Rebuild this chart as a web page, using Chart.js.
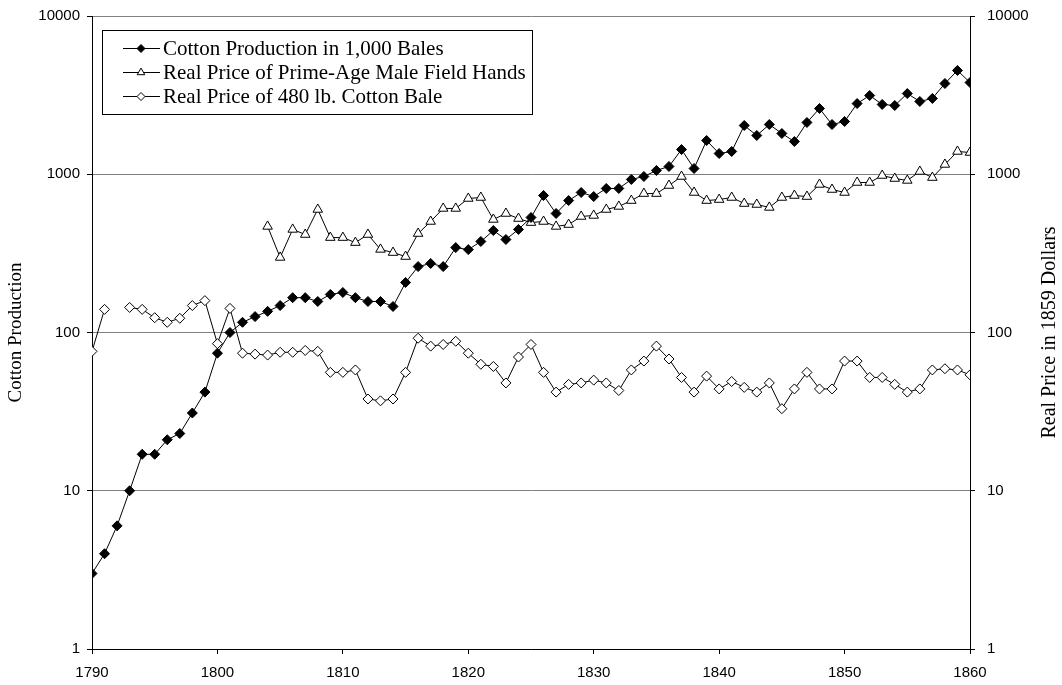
<!DOCTYPE html>
<html>
<head>
<meta charset="utf-8">
<script src="https://cdn.jsdelivr.net/npm/chart.js@4"></script>
<style>
  body { margin: 0; background: #fff; }
  #wrap { width: 1062px; height: 685px; position: relative; }
</style>
</head>
<body>
<div id="wrap"><canvas id="cotton"></canvas></div>
<script>
// years on the x axis
const years = [1790, 1791, 1792, 1793, 1794, 1795, 1796, 1797, 1798, 1799,
  1800, 1801, 1802, 1803, 1804, 1805, 1806, 1807, 1808, 1809,
  1810, 1811, 1812, 1813, 1814, 1815, 1816, 1817, 1818, 1819,
  1820, 1821, 1822, 1823, 1824, 1825, 1826, 1827, 1828, 1829,
  1830, 1831, 1832, 1833, 1834, 1835, 1836, 1837, 1838, 1839,
  1840, 1841, 1842, 1843, 1844, 1845, 1846, 1847, 1848, 1849,
  1850, 1851, 1852, 1853, 1854, 1855, 1856, 1857, 1858, 1859, 1860];

// cotton production, 1,000 bales (left axis)
const cottonBales = [3, 4, 6, 10, 17, 17, 21, 23, 31, 42,
  74, 100, 116, 126, 136, 148, 166, 166, 157, 174,
  179, 166, 157, 157, 146, 207, 261, 273, 261, 344,
  334, 376, 441, 387, 448, 533, 734, 565, 682, 767,
  723, 813, 813, 927, 968, 1057, 1120, 1433, 1087, 1634,
  1352, 1393, 2033, 1758, 2062, 1810, 1610, 2124, 2603, 2062,
  2154, 2797, 3145, 2761, 2719, 3236, 2884, 3013, 3745, 4527, 3800];

// real price of prime-age male field hands (right axis)
const fieldHandPrice = [null, null, null, null, null, null, null, null, null, null,
  null, null, null, null, 468, 298, 448, 416, 599, 398,
  398, 370, 416, 335, 320, 302, 422, 503, 608, 608,
  703, 713, 518, 565, 525, 495, 503, 468, 481, 541,
  549, 599, 626, 682, 755, 755, 849, 968, 767, 682,
  692, 713, 653, 644, 617, 713, 734, 723, 862, 801,
  767, 887, 887, 982, 940, 914, 1041, 953, 1153, 1393, 1372];

// real price of a 480 lb. cotton bale (right axis)
const balePrice = [76, 140, null, 144, 140, 124, 116, 123, 148, 159,
  85, 142, 74, 73, 72, 75, 75, 77, 76, 56,
  56, 58, 38, 37, 38, 56, 92, 82, 84, 88,
  74, 63, 61, 48, 70, 84, 56, 42, 47, 48,
  50, 48, 43, 58, 66, 82, 68, 52, 42, 53,
  44, 49, 45, 42, 48, 33, 44, 56, 44, 44,
  66, 66, 52, 52, 47, 42, 44, 58, 59, 58, 54];

const decades = [1, 10, 100, 1000, 10000];

const serif = "'Liberation Serif', 'Times New Roman', serif";
const sans = "'Liberation Sans', Arial, sans-serif";

function toPoints(values) {
  return values.map((v, i) => ({ x: years[i], y: v }));
}

function decadeTicks(scale) {
  scale.ticks = decades.map(v => ({ value: v }));
}

// fixed axis widths so the plot area lands where the original's does
function fitSide(scale) {
  scale.width = 92;
  scale.paddingTop = 0;
  scale.paddingBottom = 0;
}

// legend drawn as a boxed list with line + marker samples
const boxLegend = {
  id: 'boxLegend',
  afterDraw(chart) {
    const ctx = chart.ctx;
    ctx.save();
    ctx.fillStyle = '#fff';
    ctx.strokeStyle = '#000';
    ctx.lineWidth = 1;
    ctx.fillRect(102, 30, 430, 84);
    ctx.strokeRect(102.5, 30.5, 430, 84);
    chart.data.datasets.forEach((ds, i) => {
      const y = 48 + i * 24;
      ctx.strokeStyle = '#000';
      ctx.lineWidth = 1;
      ctx.beginPath();
      ctx.moveTo(123, y + 0.5);
      ctx.lineTo(160, y + 0.5);
      ctx.stroke();
      ctx.fillStyle = ds.pointBackgroundColor;
      ctx.strokeStyle = ds.pointBorderColor;
      Chart.helpers.drawPoint(ctx, {
        pointStyle: ds.pointStyle,
        radius: ds.pointRadius * 0.8,
        rotation: 0,
        borderWidth: 1
      }, 141, y + 0.5);
      ctx.fillStyle = '#000';
      ctx.font = '21px ' + serif;
      ctx.textAlign = 'left';
      ctx.textBaseline = 'middle';
      ctx.fillText(ds.label, 163, y + 1);
    });
    ctx.restore();
  }
};

// right-hand title, reading bottom to top like the left one
const rightTitle = {
  id: 'rightTitle',
  afterDraw(chart) {
    const ctx = chart.ctx;
    const area = chart.chartArea;
    ctx.save();
    ctx.translate(1050, (area.top + area.bottom) / 2);
    ctx.rotate(-Math.PI / 2);
    ctx.fillStyle = '#000';
    ctx.font = '20px ' + serif;
    ctx.textAlign = 'center';
    ctx.textBaseline = 'middle';
    ctx.fillText('Real Price in 1859 Dollars', 0, 0);
    ctx.restore();
  }
};

const ctx = document.getElementById('cotton').getContext('2d');

new Chart(ctx, {
  type: 'line',
  data: {
    datasets: [
      {
        label: 'Cotton Production in 1,000 Bales',
        data: toPoints(cottonBales),
        yAxisID: 'y',
        borderColor: '#000',
        borderWidth: 1,
        pointStyle: 'rectRot',
        pointRadius: 5,
        pointBackgroundColor: '#000',
        pointBorderColor: '#000',
        pointBorderWidth: 1,
        tension: 0,
      },
      {
        label: 'Real Price of Prime-Age Male Field Hands',
        data: toPoints(fieldHandPrice),
        yAxisID: 'y2',
        borderColor: '#000',
        borderWidth: 1,
        pointStyle: 'triangle',
        pointRadius: 5.5,
        pointBackgroundColor: '#fff',
        pointBorderColor: '#000',
        pointBorderWidth: 1,
        tension: 0,
        spanGaps: false,
      },
      {
        label: 'Real Price of 480 lb. Cotton Bale',
        data: toPoints(balePrice),
        yAxisID: 'y2',
        borderColor: '#000',
        borderWidth: 1,
        pointStyle: 'rectRot',
        pointRadius: 5,
        pointBackgroundColor: '#fff',
        pointBorderColor: '#000',
        pointBorderWidth: 1,
        tension: 0,
        spanGaps: false,
      },
    ],
  },
  options: {
    responsive: true,
    maintainAspectRatio: false,
    animation: false,
    layout: { padding: { top: 16, left: 0, right: 0, bottom: 0 } },
    plugins: {
      legend: { display: false },
      tooltip: { enabled: false },
    },
    scales: {
      x: {
        type: 'linear',
        min: 1790,
        max: 1860,
        afterFit(scale) {
          scale.height = 36;
          scale.paddingLeft = 0;
          scale.paddingRight = 0;
        },
        ticks: {
          stepSize: 10,
          color: '#000',
          font: { family: sans, size: 15 },
          padding: 10,
          maxRotation: 0,
          callback: v => String(v),
        },
        grid: { drawOnChartArea: false, color: '#000', tickLength: 5 },
        border: { color: '#000', width: 1 },
      },
      y: {
        type: 'logarithmic',
        position: 'left',
        min: 1,
        max: 10000,
        afterBuildTicks: decadeTicks,
        afterFit: fitSide,
        ticks: {
          color: '#000',
          font: { family: sans, size: 15 },
          padding: 7,
          callback: v => String(v),
        },
        grid: { color: '#808080', tickColor: '#000', tickLength: 5 },
        border: { color: '#000', width: 1 },
        title: {
          display: true,
          text: 'Cotton Production',
          color: '#000',
          font: { family: serif, size: 19 },
          padding: { top: 5, bottom: 0 },
        },
      },
      y2: {
        type: 'logarithmic',
        position: 'right',
        min: 1,
        max: 10000,
        afterBuildTicks: decadeTicks,
        afterFit: fitSide,
        ticks: {
          color: '#000',
          font: { family: sans, size: 15 },
          padding: 12,
          callback: v => String(v),
        },
        grid: { drawOnChartArea: false, color: '#000', tickLength: 5 },
        border: { color: '#000', width: 1 },
      },
    },
  },
  plugins: [boxLegend, rightTitle],
});
</script>
</body>
</html>
